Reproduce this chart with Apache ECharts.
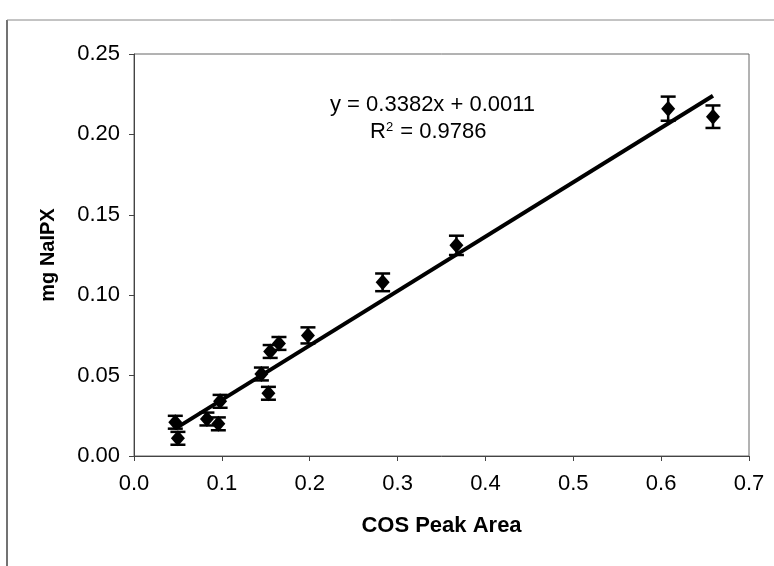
<!DOCTYPE html>
<html>
<head>
<meta charset="utf-8">
<script src="https://cdn.jsdelivr.net/npm/echarts@6/dist/echarts.min.js"></script>
<style>
  html, body { margin: 0; padding: 0; background: #fff; }
  #chart { width: 774px; height: 566px; }
</style>
</head>
<body>
<div id="chart"></div>
<script>
// values
var cosArea = [0.047, 0.050, 0.083, 0.096, 0.098, 0.145, 0.153, 0.155, 0.165, 0.198, 0.283, 0.367, 0.608, 0.659];
var mgNaIPX = [0.021, 0.011, 0.023, 0.020, 0.034, 0.051, 0.039, 0.065, 0.070, 0.075, 0.108, 0.131, 0.216, 0.211];
var errHalf = [0.004, 0.004, 0.004, 0.004, 0.004, 0.004, 0.004, 0.004, 0.004, 0.005, 0.0055, 0.006, 0.0075, 0.007];
// trend line end points
var trendX = [0.047, 0.659];
var trendY = [0.017, 0.224];
var xTicks = [0, 0.7, 0.1];
var yTicks = [0, 0.25, 0.05];

var font = 'Liberation Sans, Arial, sans-serif';

var points = cosArea.map(function (x, i) { return [x, mgNaIPX[i]]; });
var bars = cosArea.map(function (x, i) { return [x, mgNaIPX[i] - errHalf[i], mgNaIPX[i] + errHalf[i]]; });
var trend = trendX.map(function (x, i) { return [x, trendY[i]]; });

// draws one error bar with caps
function renderErr(params, api) {
    var x = api.value(0);
    var top = api.coord([x, api.value(2)]);
    var bot = api.coord([x, api.value(1)]);
    var w = 7.5;
    var st = { stroke: '#000', lineWidth: 2.5 };
    return {
        type: 'group',
        children: [
            { type: 'line', shape: { x1: top[0], y1: top[1], x2: bot[0], y2: bot[1] }, style: st },
            { type: 'line', shape: { x1: top[0] - w, y1: top[1], x2: top[0] + w, y2: top[1] }, style: st },
            { type: 'line', shape: { x1: bot[0] - w, y1: bot[1], x2: bot[0] + w, y2: bot[1] }, style: st }
        ]
    };
}

var myChart = echarts.init(document.getElementById('chart'));
var option = {
    backgroundColor: '#fff',
    animation: false,
    grid: {
        left: 134, right: 25, top: 54, bottom: 110,
        show: true, borderColor: '#666', borderWidth: 1
    },
    xAxis: {
        type: 'value',
        min: xTicks[0], max: xTicks[1], interval: xTicks[2],
        name: 'COS Peak Area',
        nameLocation: 'middle',
        nameGap: 59,
        nameTextStyle: { fontFamily: font, fontSize: 22, fontWeight: 'bold', color: '#000' },
        splitLine: { show: false },
        axisLine: { onZero: false, lineStyle: { color: '#444', width: 1 } },
        axisTick: { show: true, inside: false, length: 5, lineStyle: { color: '#444' } },
        axisLabel: {
            fontFamily: font, fontSize: 22, color: '#000', margin: 17,
            formatter: function (v) { return v.toFixed(1); }
        }
    },
    yAxis: {
        type: 'value',
        min: yTicks[0], max: yTicks[1], interval: yTicks[2],
        name: 'mg NaIPX',
        nameLocation: 'middle',
        nameGap: 76,
        nameTextStyle: { fontFamily: font, fontSize: 20, fontWeight: 'bold', color: '#000' },
        splitLine: { show: false },
        axisLine: { show: true, lineStyle: { color: '#444', width: 1 } },
        axisTick: { show: true, inside: false, length: 5, lineStyle: { color: '#444' } },
        axisLabel: {
            fontFamily: font, fontSize: 22, color: '#000', margin: 14,
            formatter: function (v) { return v.toFixed(2); }
        }
    },
    graphic: [
        { type: 'line', shape: { x1: 7, y1: 20, x2: 7, y2: 566 }, style: { stroke: '#444', lineWidth: 1.5 } },
        { type: 'line', shape: { x1: 7, y1: 20, x2: 774, y2: 20 }, style: { stroke: '#888', lineWidth: 1 } },
        {
            type: 'text', left: 330, top: 94,
            style: { text: 'y = 0.3382x + 0.0011', font: '22px ' + font, fill: '#000' }
        },
        {
            type: 'text', left: 370, top: 121,
            style: {
                text: 'R{sup|2} = 0.9786',
                font: '22px ' + font, fill: '#000',
                rich: { sup: { fontSize: 13, fontFamily: font, verticalAlign: 'top', padding: [0, 1, 9, 0] } }
            }
        }
    ],
    series: [
        {
            type: 'line',
            data: trend,
            symbol: 'none',
            lineStyle: { color: '#000', width: 4 },
            z: 2
        },
        {
            type: 'custom',
            data: bars,
            renderItem: renderErr,
            z: 3
        },
        {
            type: 'scatter',
            data: points,
            symbol: 'diamond',
            symbolSize: [14, 16],
            itemStyle: { color: '#000', opacity: 1 },
            z: 4
        }
    ]
};
option && myChart.setOption(option);
</script>
</body>
</html>
